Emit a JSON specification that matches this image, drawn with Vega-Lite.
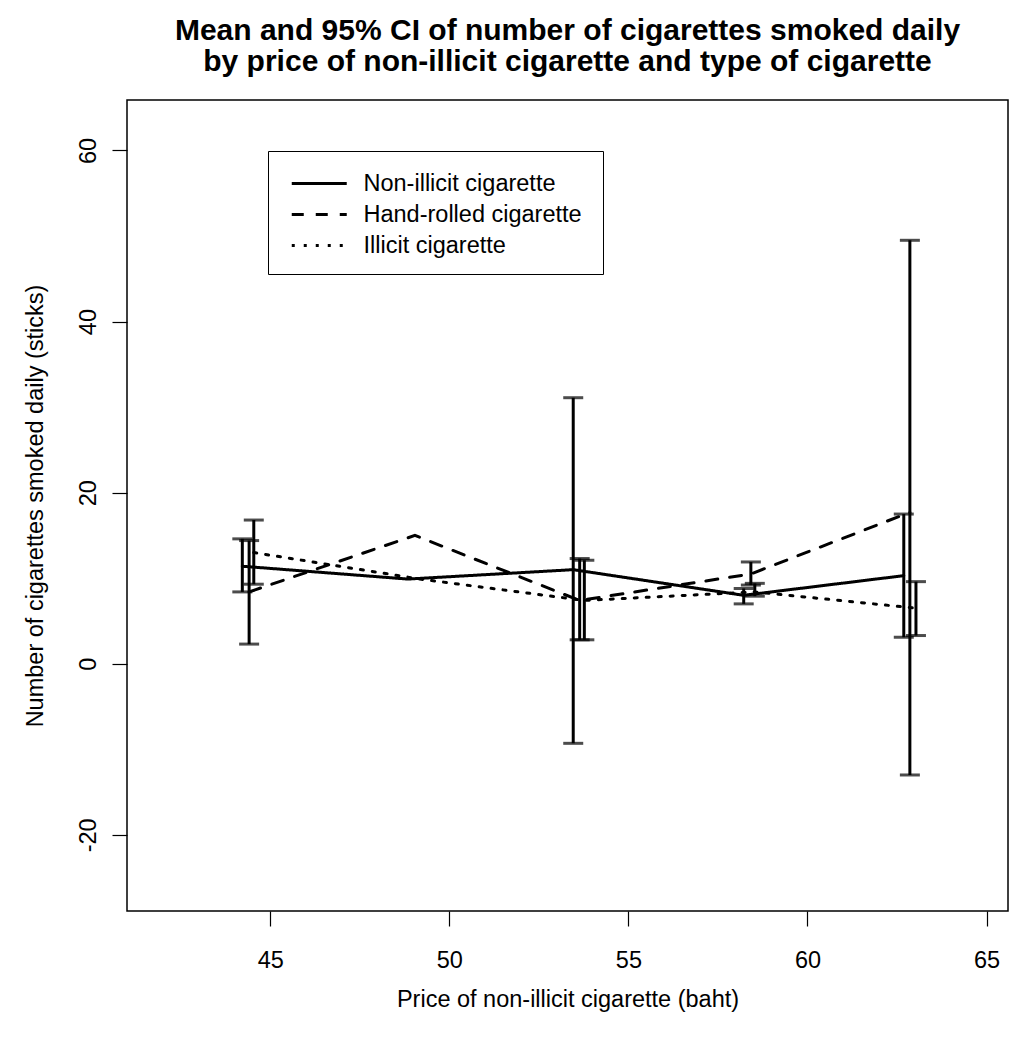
{
  "$schema": "https://vega.github.io/schema/vega-lite/v6.json",
  "width": 881,
  "height": 811,
  "autosize": {"type": "none"},
  "padding": {"left": 127, "top": 100, "right": 2, "bottom": 128},
  "background": "white",
  "config": {
    "font": "Liberation Sans",
    "view": {"stroke": "black", "strokeWidth": 1.5},
    "axis": {
      "domain": false,
      "grid": false,
      "ticks": true,
      "tickColor": "black",
      "tickSize": 15,
      "tickWidth": 1.2,
      "labelFont": "Liberation Sans",
      "labelFontSize": 23.5,
      "labelColor": "black",
      "titleFont": "Liberation Sans",
      "titleFontSize": 23.5,
      "titleFontWeight": "normal",
      "titleColor": "black"
    }
  },
  "title": {
    "text": ["Mean and 95% CI of number of cigarettes smoked daily", "by price of non-illicit cigarette and type of cigarette"],
    "font": "Liberation Sans",
    "fontSize": 30,
    "fontWeight": "bold",
    "color": "black",
    "lineHeight": 31,
    "anchor": "middle",
    "frame": "group",
    "offset": 23
  },
  "data": {
    "values": [
      {"type": "Non-illicit cigarette", "price": 44.22, "mean": 11.4, "lo": 8.4, "hi": 14.6},
      {"type": "Non-illicit cigarette", "price": 48.84, "mean": 9.9, "lo": null, "hi": null},
      {"type": "Non-illicit cigarette", "price": 53.46, "mean": 11.0, "lo": -9.3, "hi": 31.1},
      {"type": "Non-illicit cigarette", "price": 58.22, "mean": 8.0, "lo": 7.0, "hi": 8.8},
      {"type": "Non-illicit cigarette", "price": 62.69, "mean": 10.3, "lo": 3.1, "hi": 17.5},
      {"type": "Hand-rolled cigarette", "price": 44.41, "mean": 8.4, "lo": 2.3, "hi": 14.4},
      {"type": "Hand-rolled cigarette", "price": 49.04, "mean": 15.0, "lo": null, "hi": null},
      {"type": "Hand-rolled cigarette", "price": 53.64, "mean": 7.4, "lo": 2.8, "hi": 12.3},
      {"type": "Hand-rolled cigarette", "price": 58.42, "mean": 10.5, "lo": 9.2, "hi": 11.9},
      {"type": "Hand-rolled cigarette", "price": 62.86, "mean": 17.7, "lo": -13.0, "hi": 49.5},
      {"type": "Illicit cigarette", "price": 44.54, "mean": 13.0, "lo": 9.3, "hi": 16.8},
      {"type": "Illicit cigarette", "price": 49.18, "mean": 9.9, "lo": null, "hi": null},
      {"type": "Illicit cigarette", "price": 53.77, "mean": 7.4, "lo": 2.8, "hi": 12.1},
      {"type": "Illicit cigarette", "price": 58.53, "mean": 8.4, "lo": 7.9, "hi": 9.4},
      {"type": "Illicit cigarette", "price": 63.03, "mean": 6.5, "lo": 3.3, "hi": 9.6}
    ]
  },
  "encoding": {
    "x": {
      "field": "price",
      "type": "quantitative",
      "title": "Price of non-illicit cigarette (baht)",
      "scale": {"domain": [41.0, 65.6], "nice": false, "zero": false},
      "axis": {"values": [45, 50, 55, 60, 65], "labelPadding": 22, "titlePadding": 16}
    }
  },
  "layer": [
    {
      "mark": {"type": "line", "color": "black", "strokeWidth": 3, "strokeCap": "round"},
      "encoding": {
        "y": {
          "field": "mean",
          "type": "quantitative",
          "title": "Number of cigarettes smoked daily (sticks)",
          "scale": {"domain": [-28.9, 65.9], "nice": false, "zero": false},
          "axis": {
            "values": [-20, 0, 20, 40, 60],
            "labelExpr": "datum.value < 0 ? '-' + abs(datum.value) : '' + datum.value",
            "labelAngle": -90,
            "labelAlign": "center",
            "labelBaseline": "bottom",
            "labelPadding": 12,
            "titlePadding": 29
          }
        },
        "strokeDash": {
          "field": "type",
          "type": "nominal",
          "scale": {
            "domain": ["Non-illicit cigarette", "Hand-rolled cigarette", "Illicit cigarette"],
            "range": [[1, 0], [12, 12], [3, 9]]
          },
          "legend": {
            "orient": "none",
            "legendX": 141,
            "legendY": 51,
            "title": "\u00a0",
            "titleOrient": "right",
            "titleColor": "transparent",
            "titlePadding": 4,
            "strokeColor": "black",
            "fillColor": "white",
            "padding": 17,
            "symbolType": "M-1,0H3",
            "symbolSize": 756,
            "symbolOffset": 5,
            "symbolStrokeWidth": 3,
            "symbolStrokeColor": "black",
            "labelFontSize": 23.5,
            "labelFont": "Liberation Sans",
            "labelColor": "black",
            "labelOffset": 42.5,
            "labelLimit": 400,
            "rowPadding": 4
          }
        }
      }
    },
    {
      "transform": [{"filter": "datum.lo != null"}],
      "mark": {"type": "errorbar", "color": "black", "thickness": 3, "ticks": {"size": 20, "thickness": 3, "color": "black"}},
      "encoding": {
        "y": {"field": "lo", "type": "quantitative", "title": "Number of cigarettes smoked daily (sticks)"},
        "y2": {"field": "hi"}
      }
    }
  ]
}
